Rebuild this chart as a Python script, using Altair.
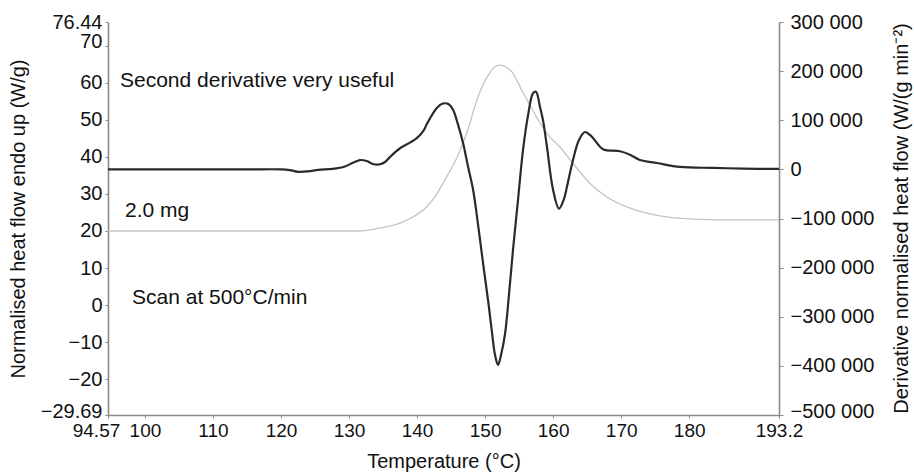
import altair as alt
import pandas as pd

# Heat flow (grey curve, left axis)
flow_temp = [94.57, 120.0, 131.6, 134.0, 137.5, 139.5, 141.5, 142.8, 143.8, 145.9, 147.3,
             148.8, 150.3, 152.0, 153.7, 155.6, 158.1, 159.5, 161.0, 162.9, 165.4,
             167.9, 171.3, 176.7, 180.6, 185.0, 193.2]
flow_val = [20.0, 20.0, 20.0, 20.6, 22.1, 23.9, 26.7, 29.7, 32.9, 40.0, 46.4,
            55.4, 61.6, 64.8, 63.5, 57.3, 49.1, 45.4, 42.7, 38.3, 32.9,
            29.2, 26.2, 23.8, 23.2, 23.0, 23.0]

# Derivative (black curve, right axis)
deriv_temp = [94.57, 105.0, 115.0, 120.0, 121.3, 122.5, 124.0, 125.5, 127.6, 129.4, 130.5,
              131.6, 132.6, 133.5, 134.4, 135.3, 136.0, 137.5, 139.0, 140.0, 141.0,
              141.5, 142.9, 143.8, 144.6, 145.3, 146.0, 146.75, 147.5, 148.23, 148.96,
              149.69, 150.43, 151.02, 151.46, 151.9, 152.34, 152.93, 153.51, 154.1, 154.84,
              155.57, 156.31, 157.04, 157.48, 158.07, 158.51, 159.1, 159.98, 160.86, 161.6,
              162.04, 162.92, 163.8, 164.69, 165.4, 165.86, 167.33, 169.83, 171.3, 172.77,
              175.27, 178.65, 183.5, 188.0, 193.2]
deriv_val = [0, 0, 0, 0, -1500, -5000, -4000, -1000, 1000, 6000, 13000,
             19000, 17000, 11000, 10000, 15000, 25000, 43000, 55000, 64000, 80000,
             94000, 125000, 134000, 133000, 121000, 92000, 54000, 5000, -41000, -112000,
             -190000, -266000, -333000, -378000, -398000, -378000, -335000, -255000, -164000, -62000,
             39000, 110000, 155000, 158000, 127000, 100000, 45000, -41000, -80000, -60000,
             -35000, 19000, 60000, 76000, 70000, 64000, 41000, 37000, 30000, 19000,
             13000, 5000, 3000, 1500, 1000]

# Annotations (placed in data coordinates of the left axis)
note_text = ["Second derivative very useful", "2.0 mg", "Scan at 500\u00b0C/min"]
note_temp = [96.33, 97.07, 98.1]
note_val = [60.5, 25.4, 1.9]

x_ticks = [94.57, 100, 110, 120, 130, 140, 150, 160, 170, 180, 193.2]
left_ticks = [-29.69, -20, -10, 0, 10, 20, 30, 40, 50, 60, 70, 76.44]
right_ticks = [-500000, -400000, -300000, -200000, -100000, 0, 100000, 200000, 300000]

x_domain = [94.57, 193.2]
left_domain = [-29.69, 76.44]
right_domain = [-500000, 300000]

FONT = "Liberation Sans"

flow_df = pd.DataFrame({"T": flow_temp, "Q": flow_val})
deriv_df = pd.DataFrame({"T": deriv_temp, "D": deriv_val})
note_df = pd.DataFrame({"T": note_temp, "Q": note_val, "label": note_text})

x_axis = alt.Axis(
    values=x_ticks,
    title="Temperature (\u00b0C)",
    labelExpr="format(datum.value, '.2~f')",
    labelFlush=False,
    labelFontSize=19,
    labelOffset={"condition": {"test": "datum.value < 95", "value": -12}, "value": 0},
    tickSize=3,
    labelPadding=3,
    titlePadding=11,
    grid=False,
)
x_scale = alt.Scale(domain=x_domain, nice=False, zero=False)

left_axis = alt.Axis(
    orient="left",
    values=left_ticks,
    title="Normalised heat flow endo up (W/g)",
    labelExpr="replace(format(datum.value, '.2~f'), '-', '\u2212')",
    labelOverlap=False,
    labelOffset={"condition": {"test": "datum.value < -29 || (datum.value > 69 && datum.value < 71)",
                               "value": -4}, "value": 0},
    tickSize=3,
    labelPadding=3,
    titlePadding=12,
    grid=False,
)
left_scale = alt.Scale(domain=left_domain, nice=False, zero=False)

gray = alt.Chart(flow_df).mark_line(
    color="#c4c4c4", strokeWidth=1.3, interpolate="monotone"
).encode(
    x=alt.X("T:Q", scale=x_scale, axis=x_axis),
    y=alt.Y("Q:Q", scale=left_scale, axis=left_axis),
)

notes = alt.Chart(note_df).mark_text(
    align="left", baseline="middle", fontSize=21, font=FONT, color="#111"
).encode(
    x=alt.X("T:Q", scale=x_scale, axis=x_axis),
    y=alt.Y("Q:Q", scale=left_scale, axis=left_axis),
    text="label:N",
)

black = alt.Chart(deriv_df).mark_line(
    color="#2a2a2a", strokeWidth=2.2, interpolate="catmull-rom"
).encode(
    x=alt.X("T:Q", scale=x_scale, axis=x_axis),
    y=alt.Y(
        "D:Q",
        scale=alt.Scale(domain=right_domain, nice=False, zero=False),
        axis=alt.Axis(
            orient="right",
            values=right_ticks,
            title="Derivative normalised heat flow (W/(g min\u207b\u00b2)",
            titleAngle=270,
            titleX=122,
            titleY=196,
            titleAlign="center",
            titleBaseline="middle",
            labelExpr="replace(replace(format(datum.value, ','), ',', ' '), '-', '\u2212')",
            labelOverlap=False,
            labelOffset={"condition": {"test": "datum.value < -450000", "value": -4}, "value": 0},
            tickSize=4,
            labelPadding=7,
            grid=False,
        ),
    ),
)

chart = alt.layer(alt.layer(gray, notes), black).resolve_scale(
    y="independent"
).properties(
    width=671,
    height=393,
    padding={"left": 108, "top": 22, "right": 135, "bottom": 60},
    autosize=alt.AutoSizeParams(type="none"),
).configure_view(
    stroke=None
).configure_axis(
    labelFont=FONT,
    titleFont=FONT,
    labelFontSize=20,
    titleFontSize=20,
    titleFontWeight="normal",
    labelColor="#111",
    titleColor="#111",
    domainColor="#8a8a8a",
    domainWidth=1.6,
    tickColor="#8a8a8a",
    tickWidth=1,
)

chart.save("out.html", embed_options={"renderer": "svg", "actions": False})
